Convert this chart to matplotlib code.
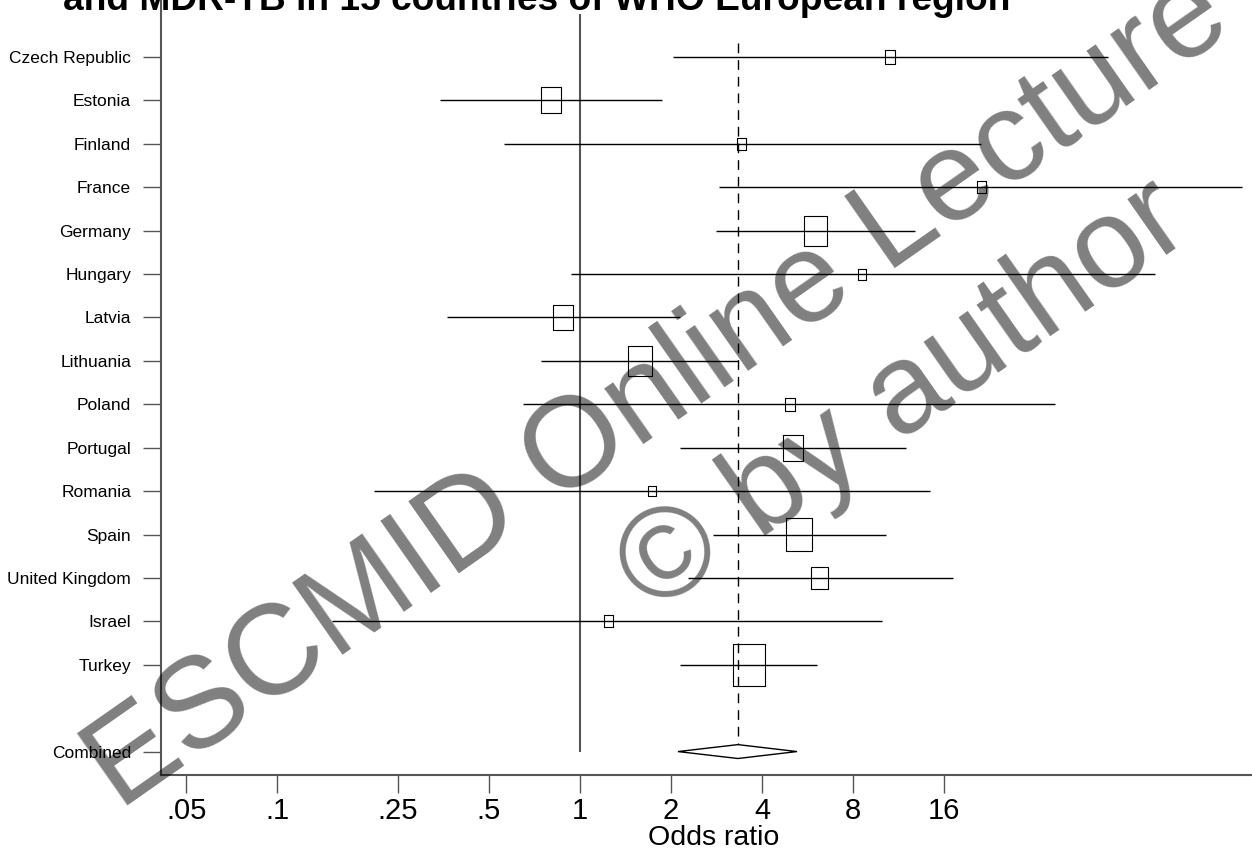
import matplotlib
matplotlib.use("Agg")
import matplotlib.pyplot as plt
import numpy as np
from matplotlib.path import Path

plt.rcParams['font.family'] = ['Liberation Sans', 'DejaVu Sans']

# study estimates (odds ratio with 95% CI)
countries = ["Czech Republic", "Estonia", "Finland", "France", "Germany",
             "Hungary", "Latvia", "Lithuania", "Poland", "Portugal",
             "Romania", "Spain", "United Kingdom", "Israel", "Turkey"]
odds_ratio = [10.6, 0.80, 3.43, 21.3, 5.99, 8.57, 0.88, 1.58, 4.94, 5.06,
              1.73, 5.32, 6.22, 1.24, 3.62]
ci_low = [2.03, 0.344, 0.56, 2.88, 2.82, 0.934, 0.363, 0.743, 0.65, 2.14,
          0.208, 2.75, 2.28, 0.152, 2.14]
ci_high = [55.8, 1.87, 21.2, 154.6, 12.8, 79.8, 2.14, 3.33, 37.3, 11.96,
           14.4, 10.3, 17.1, 10.0, 6.1]
weights = [2.1, 8.3, 1.7, 1.7, 11.0, 1.5, 8.0, 11.0, 1.9, 8.3,
           1.2, 14.0, 6.0, 1.7, 21.9]

pooled_or = 3.33
pooled_low = 2.11
pooled_high = 5.22

xticks = [0.05, 0.1, 0.25, 0.5, 1, 2, 4, 8, 16]
xtick_labels = [".05", ".1", ".25", ".5", "1", "2", "4", "8", "16"]

W, H = 1252, 851
fig = plt.figure(figsize=(W / 100, H / 100), dpi=100)
ax = fig.add_axes([161 / W, 76 / H, (1267 - 161) / W, 785 / H])
ax.set_xscale("log", base=2)

rows = np.arange(len(countries))
comb_row = len(countries) + 1

# confidence intervals
ax.hlines(rows, ci_low, ci_high, colors="black", lw=1, zorder=2)

# weight boxes, a bit taller than wide
rect = Path([(-0.5, -0.65), (0.5, -0.65), (0.5, 0.65), (-0.5, 0.65), (-0.5, -0.65)],
            [Path.MOVETO, Path.LINETO, Path.LINETO, Path.LINETO, Path.CLOSEPOLY])
box_w = 6.95 * np.sqrt(weights)          # px
box_h = 1.3 * box_w
sizes = (box_h * 0.72) ** 2
ax.scatter(odds_ratio, rows, s=sizes, marker=rect, facecolors="none",
           edgecolors="black", linewidths=0.8, zorder=3)

# pooled estimate
dh = 0.16
ax.fill([pooled_low, pooled_or, pooled_high, pooled_or],
        [comb_row, comb_row - dh, comb_row, comb_row + dh],
        facecolor="white", edgecolor="black", lw=1, zorder=3)

# reference lines
ax.vlines(1, -1, comb_row, colors="#555555", lw=1.5, zorder=1)
ax.vlines(pooled_or, -1 / 3, comb_row - dh, colors="black", lw=1,
          linestyles=(0, (7, 5)), zorder=1)

ax.set_xlim(0.0412, 187)
ax.set_ylim(16.54, -1.544)

ax.set_xticks(xticks)
ax.set_xticklabels(xtick_labels)
ax.minorticks_off()
ax.set_yticks(list(rows) + [comb_row])
ax.set_yticklabels(countries + ["Combined"])

for s in ["top", "right"]:
    ax.spines[s].set_visible(False)
for s in ["left", "bottom"]:
    ax.spines[s].set_color("#555555")
    ax.spines[s].set_linewidth(1.5)

ax.tick_params(axis="y", length=13, width=1, color="#555555", pad=8.5,
               labelsize=12.5)
ax.tick_params(axis="x", length=13, width=1, color="#555555", pad=3,
               labelsize=21)
ax.set_xlabel("Odds ratio", fontsize=20.5, labelpad=0)

fig.text(63 / W, 1 - 10 / H, "and MDR-TB in 15 countries of WHO European region",
         fontsize=26.7, fontweight="bold", ha="left", va="baseline")

# watermark
fig.text(119 / W, 1 - 811 / H, "ESCMID Online Lecture", fontsize=92,
         rotation=35, rotation_mode="anchor", ha="left", va="baseline",
         color="black", alpha=0.5, zorder=10)
fig.text(653 / W, 1 - 615 / H, "\u00a9 by author", fontsize=92,
         rotation=35, rotation_mode="anchor", ha="left", va="baseline",
         color="black", alpha=0.5, zorder=10)

fig.savefig("out.png", dpi=100)
